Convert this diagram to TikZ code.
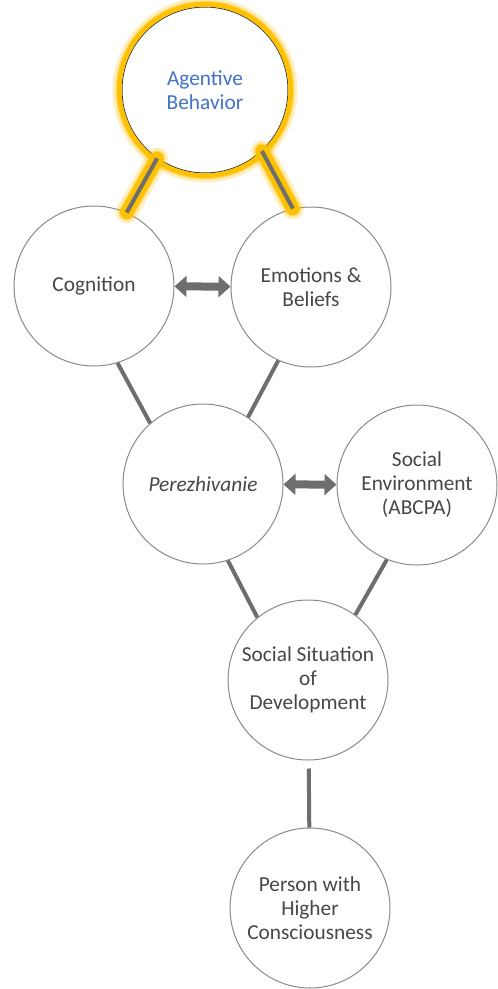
\documentclass[tikz,border=0pt]{standalone}
\usepackage{fontspec}
\setmainfont{Carlito}
\usetikzlibrary{arrows.meta}

\definecolor{linkgray}{HTML}{6E6E6E}
\definecolor{textgray}{HTML}{474747}
\definecolor{ringgray}{HTML}{8A8A8A}
\definecolor{glowgold}{HTML}{FFC000}
\definecolor{agentblue}{HTML}{4472C4}

\begin{document}
\begin{tikzpicture}[x=0.75pt, y=-0.75pt,
    every node/.style={font=\fontsize{16}{18}\selectfont, text=textgray},
    bubble/.style={circle, draw=ringgray, line width=0.75pt, fill=white,
      minimum size=120pt, inner sep=0pt, align=center},
    link/.style={draw=linkgray, line width=3pt},
    glow/.style={draw=glowgold, line cap=round},
    dblarrow/.style={draw=linkgray, line width=6pt,
      {Triangle[width=15.5pt,length=9pt]}-{Triangle[width=15.5pt,length=9pt]}},
  ]
  \useasboundingbox (0,0) rectangle (497,989);

  \node[bubble, draw=black!75, minimum size=124.5pt, text=agentblue] (agent) at (205,90) {Agentive\\Behavior};
  \node[bubble] (cog)    at (94,286)  {Cognition};
  \node[bubble] (emo)    at (311,287) {Emotions \&\\Beliefs};
  \node[bubble] (per)    at (203,484) {\textit{Perezhivanie}};
  \node[bubble] (env)    at (417,485) {Social\\Environment\\(ABCPA)};
  \node[bubble] (ssd)    at (308,680) {Social Situation\\of\\Development};
  \node[bubble] (person) at (310,908) {Person with\\Higher\\Consciousness};

  % gold halo round the top bubble and its two links
  \foreach \e/\o in {9/0.25, 6/0.5, 4.5/1} {
    \draw[glow, line width=\e*0.75pt, opacity=\o]
      (agent.center) circle[radius={62.6pt+\e*0.375pt}];
    \draw[glow, line width={(4+2*\e)*0.75pt}, opacity=\o] (agent.235) -- (cog.66);
    \draw[glow, line width={(4+2*\e)*0.75pt}, opacity=\o] (agent.313) -- (emo.103);
  }

  \draw[link] (agent.235) -- (cog.66);
  \draw[link] (agent.313) -- (emo.103);
  \draw[link] (cog.287) -- (per.131);
  \draw[link] (emo.246) -- (per.56);
  \draw[link] (per.288) -- (ssd.129);
  \draw[link] (env.248) -- (ssd.54);
  \draw[link, shorten <=6pt] (ssd) -- (person);

  \draw[dblarrow] (cog) -- (emo);
  \draw[dblarrow] (per) -- (env);
\end{tikzpicture}
\end{document}
